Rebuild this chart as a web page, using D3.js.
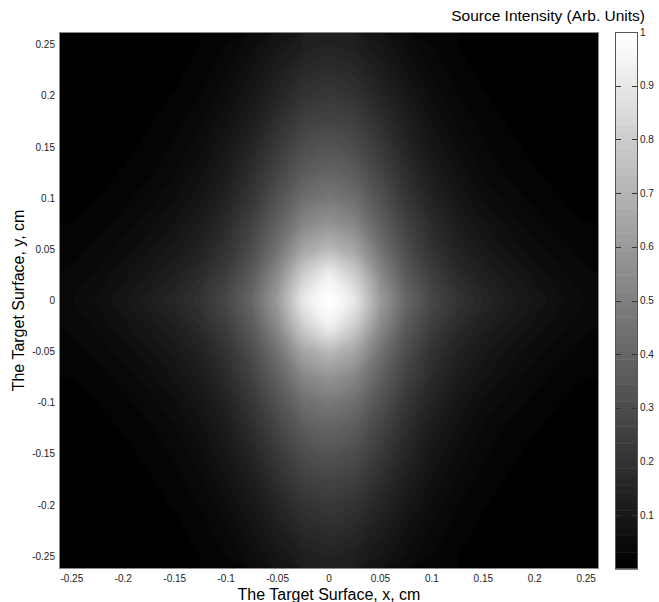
<!DOCTYPE html>
<html><head><meta charset="utf-8">
<script src="https://cdn.jsdelivr.net/npm/d3@7"></script>
<style>
body{margin:0;background:#fff;}
svg text{font-family:"Liberation Sans",Arial,Helvetica,sans-serif;}
</style>
</head><body>
<svg id="chart" width="659" height="602"></svg>
<script>
// ---- data ----
const xValues = [-0.25,-0.225,-0.2,-0.175,-0.15,-0.125,-0.1,-0.075,-0.05,-0.025,0,0.025,0.05,0.075,0.1,0.125,0.15,0.175,0.2,0.225,0.25];
const yValues = [-0.25,-0.225,-0.2,-0.175,-0.15,-0.125,-0.1,-0.075,-0.05,-0.025,0,0.025,0.05,0.075,0.1,0.125,0.15,0.175,0.2,0.225,0.25];
// intensity rows, first row is y = -0.25, columns follow xValues
const intensity = [
[0,0,0.001,0.003,0.007,0.016,0.031,0.057,0.092,0.126,0.14,0.126,0.092,0.057,0.031,0.016,0.007,0.003,0.001,0,0],
[0,0.001,0.002,0.005,0.011,0.023,0.043,0.076,0.12,0.163,0.18,0.163,0.12,0.076,0.043,0.023,0.011,0.005,0.002,0.001,0],
[0.001,0.002,0.004,0.009,0.017,0.032,0.058,0.098,0.15,0.2,0.22,0.2,0.15,0.098,0.058,0.032,0.017,0.009,0.004,0.002,0.001],
[0.002,0.003,0.007,0.014,0.025,0.044,0.075,0.123,0.185,0.25,0.27,0.25,0.185,0.123,0.075,0.044,0.025,0.014,0.007,0.003,0.002],
[0.003,0.006,0.011,0.02,0.034,0.057,0.094,0.15,0.225,0.3,0.33,0.3,0.225,0.15,0.094,0.057,0.034,0.02,0.011,0.006,0.003],
[0.006,0.01,0.017,0.028,0.045,0.072,0.115,0.18,0.27,0.36,0.39,0.36,0.27,0.18,0.115,0.072,0.045,0.028,0.017,0.01,0.006],
[0.01,0.016,0.026,0.04,0.06,0.09,0.14,0.215,0.32,0.43,0.47,0.43,0.32,0.215,0.14,0.09,0.06,0.04,0.026,0.016,0.01],
[0.016,0.025,0.038,0.056,0.08,0.115,0.17,0.26,0.38,0.52,0.57,0.52,0.38,0.26,0.17,0.115,0.08,0.056,0.038,0.025,0.016],
[0.025,0.037,0.053,0.074,0.102,0.14,0.2,0.3,0.45,0.64,0.72,0.64,0.45,0.3,0.2,0.14,0.102,0.074,0.053,0.037,0.025],
[0.035,0.051,0.072,0.097,0.13,0.172,0.245,0.355,0.54,0.8,0.93,0.8,0.54,0.355,0.245,0.172,0.13,0.097,0.072,0.051,0.035],
[0.045,0.065,0.09,0.12,0.155,0.2,0.28,0.4,0.6,0.9,1.0,0.9,0.6,0.4,0.28,0.2,0.155,0.12,0.09,0.065,0.045],
[0.035,0.051,0.072,0.097,0.13,0.172,0.245,0.355,0.54,0.8,0.93,0.8,0.54,0.355,0.245,0.172,0.13,0.097,0.072,0.051,0.035],
[0.025,0.037,0.053,0.074,0.102,0.14,0.2,0.3,0.45,0.64,0.72,0.64,0.45,0.3,0.2,0.14,0.102,0.074,0.053,0.037,0.025],
[0.016,0.025,0.038,0.056,0.08,0.115,0.17,0.26,0.38,0.52,0.57,0.52,0.38,0.26,0.17,0.115,0.08,0.056,0.038,0.025,0.016],
[0.01,0.016,0.026,0.04,0.06,0.09,0.14,0.215,0.32,0.43,0.47,0.43,0.32,0.215,0.14,0.09,0.06,0.04,0.026,0.016,0.01],
[0.006,0.01,0.017,0.028,0.045,0.072,0.115,0.18,0.27,0.36,0.39,0.36,0.27,0.18,0.115,0.072,0.045,0.028,0.017,0.01,0.006],
[0.003,0.006,0.011,0.02,0.034,0.057,0.094,0.15,0.225,0.3,0.33,0.3,0.225,0.15,0.094,0.057,0.034,0.02,0.011,0.006,0.003],
[0.002,0.003,0.007,0.014,0.025,0.044,0.075,0.123,0.185,0.25,0.27,0.25,0.185,0.123,0.075,0.044,0.025,0.014,0.007,0.003,0.002],
[0.001,0.002,0.004,0.009,0.017,0.032,0.058,0.098,0.15,0.2,0.22,0.2,0.15,0.098,0.058,0.032,0.017,0.009,0.004,0.002,0.001],
[0,0.001,0.002,0.005,0.011,0.023,0.043,0.076,0.12,0.163,0.18,0.163,0.12,0.076,0.043,0.023,0.011,0.005,0.002,0.001,0],
[0,0,0.001,0.003,0.007,0.016,0.031,0.057,0.092,0.126,0.14,0.126,0.092,0.057,0.031,0.016,0.007,0.003,0.001,0,0]
];
const xTicks = [-0.25,-0.2,-0.15,-0.1,-0.05,0,0.05,0.1,0.15,0.2,0.25];
const yTicks = [-0.25,-0.2,-0.15,-0.1,-0.05,0,0.05,0.1,0.15,0.2,0.25];
const cTicks = [0.1,0.2,0.3,0.4,0.5,0.6,0.7,0.8,0.9,1];
const nLevels = 64;
const xLabel = "The Target Surface, x, cm";
const yLabel = "The Target Surface, y, cm";
const cLabel = "Source Intensity (Arb. Units)";

// ---- layout ----
const svg = d3.select("#chart");
const P = {left:59, right:599, top:32, bottom:569};
const CB = {left:615, right:638};
const step = xValues[1]-xValues[0];
const x = d3.scaleLinear().domain([xValues[0]-step/2, xValues[xValues.length-1]+step/2]).range([P.left, P.right]);
const y = d3.scaleLinear().domain([yValues[0]-step/2, yValues[yValues.length-1]+step/2]).range([P.bottom, P.top]);
const grays = d3.range(nLevels).map(k => d3.rgb(255*k/(nLevels-1), 255*k/(nLevels-1), 255*k/(nLevels-1)).formatHex());
const color = d3.scaleQuantize().domain([0,1]).range(grays);

// ---- heatmap (filled contours) ----
const n = xValues.length, m = yValues.length;
const gx = d3.scaleLinear().domain([0.5, n-0.5]).range([xValues[0], xValues[n-1]]);
const gy = d3.scaleLinear().domain([0.5, m-0.5]).range([yValues[0], yValues[m-1]]);
const thresholds = d3.range(1, nLevels).map(k => k/nLevels);
const contours = d3.contours().size([n, m]).thresholds(thresholds)(intensity.flat());

svg.append("clipPath").attr("id","plotclip").append("rect")
  .attr("x",P.left).attr("y",P.top).attr("width",P.right-P.left).attr("height",P.bottom-P.top);
const g = svg.append("g").attr("clip-path","url(#plotclip)");
g.append("rect").attr("x",P.left).attr("y",P.top).attr("width",P.right-P.left).attr("height",P.bottom-P.top)
  .attr("fill",grays[0]);
const ringLine = d3.line().x(p => x(gx(p[0]))).y(p => y(gy(p[1]))).curve(d3.curveCatmullRomClosed.alpha(0.5));
g.selectAll("path.lvl").data(contours.filter(c => c.coordinates.length)).join("path")
  .attr("class","lvl")
  .attr("fill", c => color(c.value + 1e-9))
  .attr("stroke", c => color(c.value + 1e-9))
  .attr("stroke-width",0.6)
  .attr("fill-rule","evenodd")
  .attr("d", c => c.coordinates.map(poly => poly.map(r => ringLine(r.slice(0,-1))).join("")).join(""));

// frame
svg.append("rect").attr("x",P.left+0.5).attr("y",P.top+0.5).attr("width",P.right-P.left-1).attr("height",P.bottom-P.top-1)
  .attr("fill","none").attr("stroke","#8a8a8a").attr("stroke-width",1);

// axes labels
const fmt = d => String(d);
svg.append("g").selectAll("text").data(xTicks).join("text")
  .attr("x", d => x(d)).attr("y", 582).attr("text-anchor","middle")
  .attr("font-size",10).attr("fill","#222").text(fmt);
svg.append("g").selectAll("text").data(yTicks).join("text")
  .attr("x", P.left-4).attr("y", d => y(d)+3.5).attr("text-anchor","end")
  .attr("font-size",10).attr("fill","#222").text(fmt);

svg.append("text").attr("x",(P.left+P.right)/2).attr("y",600).attr("text-anchor","middle")
  .attr("font-size",16).attr("fill","#000").text(xLabel);
svg.append("text").attr("transform",`translate(24,${(P.top+P.bottom)/2}) rotate(-90)`).attr("text-anchor","middle")
  .attr("font-size",16).attr("fill","#000").text(yLabel);

// ---- colorbar ----
const c = d3.scaleLinear().domain([0,1]).range([P.bottom, P.top]);
svg.append("g").selectAll("rect").data(d3.range(nLevels)).join("rect")
  .attr("x",CB.left).attr("width",CB.right-CB.left)
  .attr("y", k => c((k+1)/nLevels)).attr("height", k => c(k/nLevels)-c((k+1)/nLevels)+0.5)
  .attr("fill", k => grays[k]);
svg.append("rect").attr("x",CB.left+0.5).attr("y",P.top+0.5).attr("width",CB.right-CB.left-1).attr("height",P.bottom-P.top-1)
  .attr("fill","none").attr("stroke","#555").attr("stroke-width",1);
const ct = svg.append("g").selectAll("g").data(cTicks).join("g");
ct.filter(d => d < 1).append("line").attr("x1",CB.left+1).attr("x2",CB.left+6).attr("y1",d=>Math.round(c(d))+0.5).attr("y2",d=>Math.round(c(d))+0.5).attr("stroke","#333");
ct.filter(d => d < 1).append("line").attr("x1",CB.right-6).attr("x2",CB.right-1).attr("y1",d=>Math.round(c(d))+0.5).attr("y2",d=>Math.round(c(d))+0.5).attr("stroke","#333");
ct.append("text").attr("x",CB.right+2).attr("y",d => c(d)+3.5).attr("font-size",10).attr("fill","#222").text(fmt);

svg.append("text").attr("x",645).attr("y",21).attr("text-anchor","end").attr("font-size",15.5).attr("fill","#000").text(cLabel);
</script>
</body></html>
